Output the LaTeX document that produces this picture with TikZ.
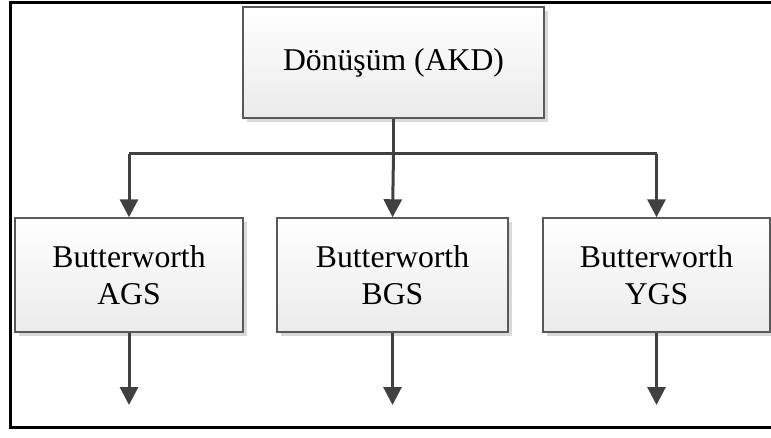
\documentclass[tikz,border=0pt]{standalone}
\usepackage{fontspec}
\setmainfont{Liberation Serif}
\usetikzlibrary{arrows.meta,shadows}

\tikzset{
  blockbox/.style={
    draw=black!65, line width=1.4pt,
    top color=white, bottom color=black!8,
    drop shadow={shadow xshift=4pt, shadow yshift=-4pt, fill=black!15, opacity=1},
    align=center, inner sep=0pt,
    font=\fontsize{31.7}{37}\selectfont
  },
  flow/.style={draw=black!75, line width=3pt,
    -{Triangle[length=18pt,width=18pt]}},
  bus/.style={draw=black!75, line width=3pt},
  frame/.style={draw=black, line width=3pt}
}

\begin{document}
\begin{tikzpicture}[x=1pt,y=-1pt]
  \useasboundingbox (0,0) rectangle (771,438);

  % outer frame (open on the right)
  \draw[frame] (775,3) -- (10,3) -- (10,427) -- (775,427);

  % blocks
  \node[blockbox, minimum width=301pt, minimum height=111pt] (akd) at (393.5,62.5) {Dönüşüm (AKD)};
  \node[blockbox, minimum width=228pt, minimum height=114pt] (ags) at (129,275) {Butterworth\\AGS};
  \node[blockbox, minimum width=231pt, minimum height=114pt] (bgs) at (392.5,275) {Butterworth\\BGS};
  \node[blockbox, minimum width=227pt, minimum height=114pt] (ygs) at (656.5,275) {Butterworth\\YGS};

  % distribution bus
  \coordinate (split) at (akd.south |- 0,154);
  \coordinate (busl) at (ags.north |- 0,154);
  \coordinate (busr) at (ygs.north |- 0,154);
  \draw[bus] (akd.south) -- (split);
  \draw[bus] (busl) -- (busr);
  \draw[flow] (busl) -- (ags.north);
  \draw[flow] (split) -- (bgs.north);
  \draw[flow] (busr) -- (ygs.north);

  % outputs
  \coordinate (oa) at (ags.south |- 0,405);
  \coordinate (ob) at (bgs.south |- 0,405);
  \coordinate (oy) at (ygs.south |- 0,405);
  \draw[flow] (ags.south) -- (oa);
  \draw[flow] (bgs.south) -- (ob);
  \draw[flow] (ygs.south) -- (oy);
\end{tikzpicture}
\end{document}
